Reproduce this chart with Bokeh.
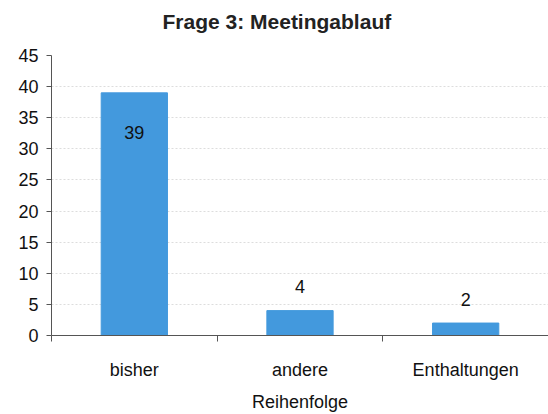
from bokeh.plotting import figure
from bokeh.models import FixedTicker, Range1d, ColumnDataSource, Title
from bokeh.core.properties import value
from bokeh.embed import file_html
from bokeh.resources import INLINE

# ---- data ----
categories = ["bisher", "andere\nReihenfolge", "Enthaltungen"]
counts = [39, 4, 2]
y_ticks = [0, 5, 10, 15, 20, 25, 30, 35, 40, 45]
title_text = "Frage 3: Meetingablauf"

FONT = "Liberation Sans"
BAR = "#4399dd"
AXIS = "#555555"

n = len(categories)
y_max = y_ticks[-1]
xs = [i + 0.5 for i in range(n)]
label_text = [str(v) for v in counts]
# labels above bar, or inside when there is no room above
offsets = [40 if v + 6 >= y_max else -24 for v in counts]

src = ColumnDataSource(dict(x=xs, top=counts, lab=label_text, off=offsets))

p = figure(width=548, height=414, output_backend="svg", toolbar_location=None,
           x_range=Range1d(0, n), y_range=Range1d(0, y_max),
           min_border_left=51, min_border_right=0, min_border_top=55,
           min_border_bottom=78, title=None)
p.outline_line_color = None
p.background_fill_color = "white"
p.border_fill_color = "white"

# gap between title and plot area
p.add_layout(Title(text=" ", text_font_size="10px", standoff=10), "above")
p.add_layout(Title(text=title_text, text_font=FONT, text_font_size="21px",
                   text_font_style="bold", text_color="#222222",
                   align="left", offset=111, standoff=0), "above")

p.vbar(x="x", top="top", width=0.4, bottom=0, source=src,
       fill_color=BAR, line_color=BAR)

p.text(x="x", y="top", text="lab", y_offset="off", source=src,
       text_align="center", text_baseline="middle",
       text_font=value(FONT), text_font_size="18px", text_color="#111111")

# y axis
p.yaxis.ticker = FixedTicker(ticks=y_ticks)
p.yaxis.axis_line_color = AXIS
p.yaxis.major_tick_line_color = AXIS
p.yaxis.major_tick_out = 5
p.yaxis.major_tick_in = 0
p.yaxis.minor_tick_line_color = None
p.yaxis.major_label_text_font = FONT
p.yaxis.major_label_text_font_size = "18px"
p.yaxis.major_label_text_color = "#111111"
p.yaxis.major_label_standoff = 8

# x axis
p.xaxis.ticker = FixedTicker(ticks=xs, minor_ticks=list(range(n + 1)))
p.xaxis.major_label_overrides = {x: c for x, c in zip(xs, categories)}
p.xaxis.axis_line_color = AXIS
p.xaxis.major_tick_line_color = None
p.xaxis.major_tick_out = 0
p.xaxis.major_tick_in = 0
p.xaxis.minor_tick_line_color = AXIS
p.xaxis.minor_tick_out = 6
p.xaxis.minor_tick_in = 0
p.xaxis.major_label_text_font = FONT
p.xaxis.major_label_text_font_size = "18px"
p.xaxis.major_label_text_color = "#111111"
p.xaxis.major_label_standoff = 18
p.xaxis.major_label_text_line_height = 1.6

p.xgrid.grid_line_color = None
p.ygrid.ticker = FixedTicker(ticks=y_ticks[1:])
p.ygrid.grid_line_color = "#dddddd"
p.ygrid.grid_line_dash = "2 2"

open("out.html", "w").write(file_html(p, INLINE))
